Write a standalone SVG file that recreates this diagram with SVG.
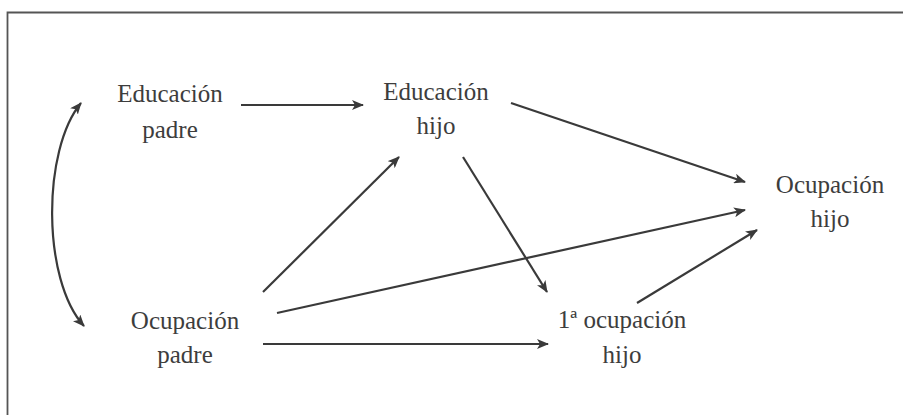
<svg xmlns="http://www.w3.org/2000/svg" width="903" height="415" viewBox="0 0 903 415">
<style>
.t{font-family:"Liberation Serif","Times New Roman",Tinos,"DejaVu Serif","Noto Serif",serif;font-size:25px;fill:#3d3d3d;text-anchor:middle}
.c{stroke:#3a3a3a;stroke-width:2.2;fill:none;marker-end:url(#ah)}
</style>
<defs>
<marker id="ah" viewBox="0 0 12 10" refX="11" refY="5" markerWidth="12" markerHeight="10" markerUnits="userSpaceOnUse" orient="auto-start-reverse">
<path d="M0,0 L12,5 L0,10 L3,5 Z" fill="#3a3a3a"/>
</marker>
</defs>
<rect width="903" height="415" fill="#fff"/>
<path d="M7.5,416 V12.5 H904" fill="none" stroke="#555" stroke-width="1.8"/>
<g id="connectors">
<line class="c" x1="241" y1="105" x2="363" y2="105"/>
<line class="c" x1="511" y1="103" x2="745" y2="182"/>
<line class="c" x1="277" y1="313" x2="745" y2="210"/>
<line class="c" x1="637" y1="303" x2="757" y2="230"/>
<line class="c" x1="463" y1="157" x2="547" y2="292"/>
<line class="c" x1="263" y1="292" x2="399" y2="157"/>
<line class="c" x1="263" y1="344" x2="548" y2="344"/>
<path class="c" style="marker-start:url(#ah)" d="M81,103 C42,150 42,280 84,326"/>
</g>
<g id="educacion-padre"><text class="t" x="170" y="102" font-family="Liberation Serif, serif">Educación</text><text class="t" x="170" y="138" font-family="Liberation Serif, serif">padre</text></g>
<g id="educacion-hijo"><text class="t" x="436" y="100" font-family="Liberation Serif, serif">Educación</text><text class="t" x="436" y="134" font-family="Liberation Serif, serif">hijo</text></g>
<g id="ocupacion-hijo"><text class="t" x="830" y="193" font-family="Liberation Serif, serif">Ocupación</text><text class="t" x="830" y="227" font-family="Liberation Serif, serif">hijo</text></g>
<g id="ocupacion-padre"><text class="t" x="185" y="329" font-family="Liberation Serif, serif">Ocupación</text><text class="t" x="185" y="363" font-family="Liberation Serif, serif">padre</text></g>
<g id="primera-ocupacion-hijo"><text class="t" x="622" y="328" font-family="Liberation Serif, serif">1ª ocupación</text><text class="t" x="622" y="363" font-family="Liberation Serif, serif">hijo</text></g>
</svg>
